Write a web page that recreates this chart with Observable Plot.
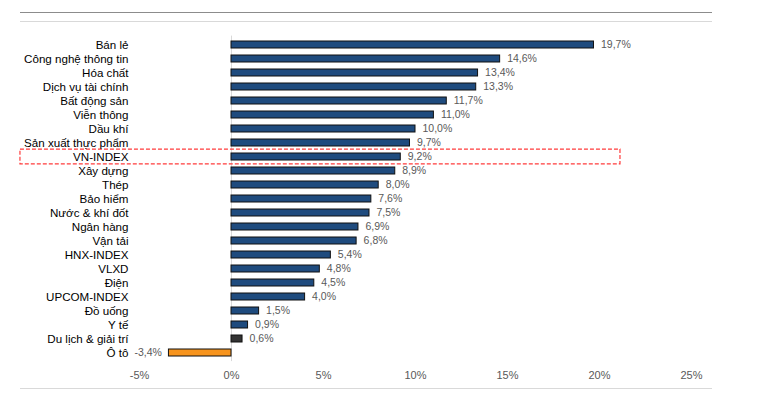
<!DOCTYPE html>
<html>
<head>
<meta charset="utf-8">
<script src="https://cdn.jsdelivr.net/npm/d3@7"></script>
<script src="https://cdn.jsdelivr.net/npm/@observablehq/plot@0.6"></script>
<style>
  html, body { margin: 0; padding: 0; background: #fff; }
  #wrap { position: relative; width: 771px; height: 395px; overflow: hidden; }
  .hline { position: absolute; left: 20px; width: 692px; height: 1px; }
  svg { font-family: "Liberation Sans", Arial, sans-serif; }
</style>
</head>
<body>
<div id="wrap">
  <div class="hline" style="top:12px;background:#8c8c8c;"></div>
  <div class="hline" style="top:21px;background:#d9d9d9;"></div>
  <div class="hline" style="top:388px;background:#d9d9d9;"></div>
</div>
<script>
const categories = ["Bán lẻ","Công nghệ thông tin","Hóa chất","Dịch vụ tài chính","Bất động sản","Viễn thông","Dầu khí","Sản xuất thực phẩm","VN-INDEX","Xây dựng","Thép","Bảo hiểm","Nước & khí đốt","Ngân hàng","Vận tải","HNX-INDEX","VLXD","Điện","UPCOM-INDEX","Đồ uống","Y tế","Du lịch & giải trí","Ô tô"];
const values = [19.7,14.6,13.4,13.3,11.7,11.0,10.0,9.7,9.2,8.9,8.0,7.6,7.5,6.9,6.8,5.4,4.8,4.5,4.0,1.5,0.9,0.6,-3.4];
const xTicks = [-5,0,5,10,15,20,25];
const highlightCategory = "VN-INDEX";
const highlightExtent = [-11.47, 21.14];

const data = categories.map((name, i) => ({name, value: values[i]}));
const fmt = v => v.toFixed(1).replace(".", ",") + "%";
const fillFor = d => d.name === "Ô tô" ? "#f7941d" : d.name === "Du lịch & giải trí" ? "#333333" : "#1f4b7e";

const chart = Plot.plot({
  width: 771,
  height: 395,
  marginTop: 35.6,
  marginBottom: 33.9,
  marginLeft: 139,
  marginRight: 80,
  style: {fontFamily: '"Liberation Sans", Arial, sans-serif', background: "transparent", overflow: "visible"},
  x: {domain: [-5, 25]},
  y: {domain: categories, paddingInner: 0.5, paddingOuter: 0.25},
  marks: [
    Plot.ruleX([0], {stroke: "#d9d9d9", strokeWidth: 1}),
    Plot.barX(data, {x: "value", y: "name", fill: fillFor, stroke: "#111", strokeWidth: 1}),
    Plot.text(data.filter(d => d.value >= 0), {x: "value", y: "name", text: d => fmt(d.value), textAnchor: "start", dx: 7, fill: "#595959", fontSize: 10.5}),
    Plot.text(data.filter(d => d.value < 0), {x: "value", y: "name", text: d => fmt(d.value), textAnchor: "end", dx: -7, fill: "#595959", fontSize: 10.5}),
    Plot.barX([highlightCategory], {y: d => d, x1: () => highlightExtent[0], x2: () => highlightExtent[1], fill: "none", stroke: "#ff3b3b", strokeWidth: 1.2, strokeDasharray: "4,2", insetTop: -3.9, insetBottom: -3.9}),
    Plot.axisY({tickSize: 0, tickPadding: 11, fontSize: 11.6, fill: "#000", label: null}),
    Plot.axisX({ticks: xTicks, tickSize: 0, tickPadding: 10, fontSize: 11, fill: "#595959", tickFormat: d => d + "%", label: null})
  ]
});
chart.style.position = "absolute";
chart.style.left = "0";
chart.style.top = "0";
document.getElementById("wrap").appendChild(chart);
</script>
</body>
</html>
